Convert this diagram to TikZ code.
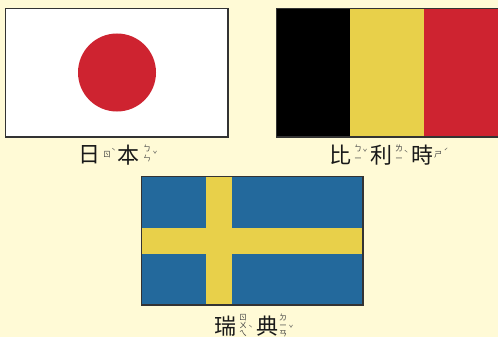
\documentclass[tikz,border=0pt]{standalone}
\usepackage{fontspec}
\newfontfamily\cjkf{Noto Sans CJK TC}
\definecolor{bgc}{HTML}{FFFAD6}
\definecolor{redc}{HTML}{CE2330}
\definecolor{yelc}{HTML}{E8D04A}
\definecolor{bluc}{HTML}{23699C}
\definecolor{edgec}{HTML}{333333}
\tikzset{
  hanzi/.style={inner sep=0pt,text=black!90,font=\cjkf\fontsize{22}{22}\selectfont},
  zhuyin/.style={inner sep=0pt,align=center,text=black!75,font=\cjkf\fontsize{8}{8}\selectfont},
  zhuyinwide/.style={zhuyin,font=\cjkf\fontsize{8}{10.5}\selectfont},
  tone/.style={inner sep=0pt,text=black!70,font=\cjkf\fontsize{7.5}{7.5}\selectfont},
  frame/.style={draw=edgec,line width=1.8pt,fill=none}
}
\begin{document}
\begin{tikzpicture}[x=1pt,y=-1pt]
\useasboundingbox (0,0) rectangle (498,337);
\fill[bgc] (0,0) rectangle (498,337);
% Japan
\fill[white] (5.5,8.5) rectangle (228,137);
\fill[redc] (117,72.5) circle (39);
\draw[frame] (5.5,8.5) rectangle (228,137);
% Belgium
\fill[black] (276.5,8.5) rectangle (350,137);
\fill[yelc] (350,8.5) rectangle (424,137);
\fill[redc] (424,8.5) rectangle (498,137);
\draw[frame] (498,8.5) -- (276.5,8.5) -- (276.5,137) -- (498,137);
% Sweden
\fill[bluc] (141.5,176.5) rectangle (363,305);
\fill[yelc] (206,176.5) rectangle (232,305);
\fill[yelc] (141.5,228) rectangle (363,254);
\draw[frame] (141.5,176.5) rectangle (363,305);
% Japan label
\node[hanzi] (ri) at (89,155) {日};
\node[zhuyin] (ri1) at (107,155) {ㄖ};
\node[tone] (rit) at (113.5,151) {ˋ};
\node[hanzi] (ben) at (128,155) {本};
\node[zhuyinwide] (ben1) at (147,153.5) {ㄅ\\ㄣ};
\node[tone] (bent) at (155,154) {ˇ};
% Belgium label
\node[hanzi] (bi) at (340,155) {比};
\node[zhuyinwide] (bi1) at (358,153) {ㄅ\\ㄧ};
\node[tone] (bit) at (365,152) {ˇ};
\node[hanzi] (li) at (381,155) {利};
\node[zhuyinwide] (li1) at (399,153) {ㄌ\\ㄧ};
\node[tone] (lit) at (406,153) {ˋ};
\node[hanzi] (shi) at (422,155) {時};
\node[zhuyin] (shi1) at (438,155) {ㄕ};
\node[tone] (shit) at (446,151) {ˊ};
% Sweden label
\node[hanzi] (rui) at (225,326) {瑞};
\node[zhuyin] (rui1) at (243,325) {ㄖ\\ㄨ\\ㄟ};
\node[tone] (ruit) at (250.5,328) {ˋ};
\node[hanzi] (dian) at (267,326) {典};
\node[zhuyin] (dian1) at (283,325) {ㄉ\\ㄧ\\ㄢ};
\node[tone] (diant) at (291,328) {ˇ};
\end{tikzpicture}
\end{document}
